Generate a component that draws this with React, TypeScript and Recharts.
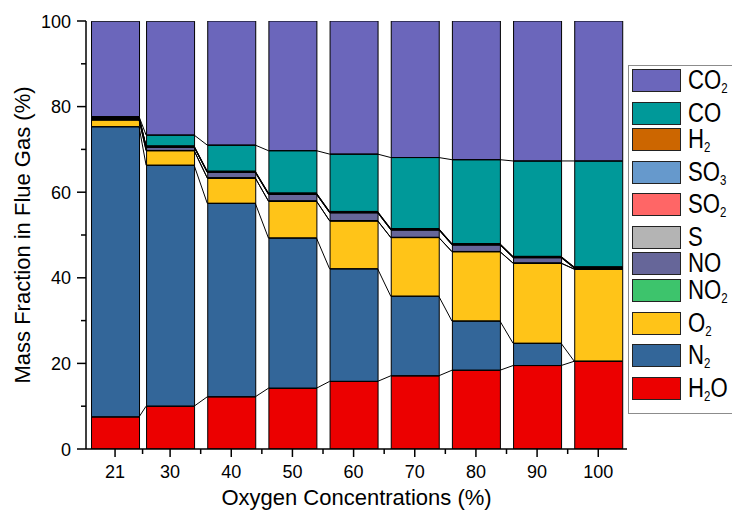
import React from 'react';
import { ComposedChart, Bar, Line, XAxis, YAxis, Legend } from 'recharts';

// ---- data ----
const oxygen = [21, 30, 40, 50, 60, 70, 80, 90, 100];
const minorXTicks = [25.5, 35, 45, 55, 65, 75, 85, 95];
const yTicks = [0, 10, 20, 30, 40, 50, 60, 70, 80, 90, 100];

const h2o = [7.5, 10.0, 12.2, 14.2, 15.8, 17.1, 18.4, 19.5, 20.5];
const n2 = [67.8, 56.3, 45.2, 35.1, 26.3, 18.6, 11.5, 5.2, 0];
const o2 = [1.6, 3.4, 5.9, 8.6, 11.2, 13.7, 16.2, 18.7, 21.5];
const no2 = [0.05, 0.05, 0.05, 0.05, 0.05, 0.05, 0.05, 0.05, 0.05];
const no = [0.3, 0.75, 1.25, 1.55, 1.85, 1.75, 1.55, 1.25, 0.2];
const sul = [0.05, 0.05, 0.05, 0.05, 0.05, 0.05, 0.05, 0.05, 0.05];
const so2 = [0.1, 0.1, 0.1, 0.1, 0.1, 0.1, 0.1, 0.1, 0.1];
const so3 = [0.05, 0.05, 0.05, 0.05, 0.05, 0.05, 0.05, 0.05, 0.05];
const h2 = [0.1, 0.1, 0.1, 0.1, 0.1, 0.1, 0.1, 0.1, 0.1];
const co = [0.1, 2.55, 6.1, 9.9, 13.4, 16.6, 19.6, 22.3, 24.75];
const co2 = [22.3, 26.6, 29.0, 30.3, 31.1, 31.9, 32.4, 32.7, 32.7];

// stacking order bottom -> top
const series = [
  { key: 'H2O', base: 'H', sub: '2', tail: 'O', values: h2o, color: '#EC0000' },
  { key: 'N2', base: 'N', sub: '2', tail: '', values: n2, color: '#336699' },
  { key: 'O2', base: 'O', sub: '2', tail: '', values: o2, color: '#FFC418' },
  { key: 'NO2', base: 'NO', sub: '2', tail: '', values: no2, color: '#3DC46C' },
  { key: 'NO', base: 'NO', sub: '', tail: '', values: no, color: '#666699' },
  { key: 'S', base: 'S', sub: '', tail: '', values: sul, color: '#B4B4B4' },
  { key: 'SO2', base: 'SO', sub: '2', tail: '', values: so2, color: '#FF6666' },
  { key: 'SO3', base: 'SO', sub: '3', tail: '', values: so3, color: '#6699CC' },
  { key: 'H2', base: 'H', sub: '2', tail: '', values: h2, color: '#CC6600' },
  { key: 'CO', base: 'CO', sub: '', tail: '', values: co, color: '#009999' },
  { key: 'CO2', base: 'CO', sub: '2', tail: '', values: co2, color: '#6B66BB' },
];

const chartData = oxygen.map((x, i) => {
  const row: Record<string, number> = { x };
  series.forEach((s) => {
    row[s.key] = s.values[i];
  });
  return row;
});

// ---- layout ----
const W = 732;
const H = 517;
const PLOT_LEFT = 86;
const PLOT_RIGHT = 627;
const PLOT_TOP = 21;
const PLOT_BOTTOM = 449;
const X_DOMAIN: [number, number] = [16.25, 104.7];
const BAR_PX = 48;
const halfBarUnits = ((BAR_PX / 2) * (X_DOMAIN[1] - X_DOMAIN[0])) / (PLOT_RIGHT - PLOT_LEFT);

// connector lines between bars: cumulative boundaries (all except the top one)
const connectorData = series.slice(0, series.length - 1).map((_, k) =>
  oxygen.flatMap((x, i) => {
    let cum = 0;
    for (let j = 0; j <= k; j++) cum += series[j].values[i];
    return [
      { x: x - halfBarUnits, y: cum },
      { x: x + halfBarUnits, y: cum },
    ];
  })
);

const FONT = 'Arial, "Liberation Sans", Helvetica, sans-serif';

const XTick = (props: any) => {
  const { x, y, payload } = props;
  const major = oxygen.includes(payload.value);
  return (
    <g>
      <line x1={x} x2={x} y1={y} y2={y + (major ? 8 : 5)} stroke="#000" strokeWidth={1.5} />
      {major && (
        <text x={x} y={y + 29} textAnchor="middle" fontSize={18} fontFamily={FONT} fill="#000">
          {payload.value}
        </text>
      )}
    </g>
  );
};

const YTick = (props: any) => {
  const { x, y, payload } = props;
  const major = payload.value % 20 === 0;
  return (
    <g>
      <line x1={x} x2={x - (major ? 9 : 5)} y1={y} y2={y} stroke="#000" strokeWidth={1.5} />
      {major && (
        <text x={x - 15} y={y + 6.5} textAnchor="end" fontSize={18} fontFamily={FONT} fill="#000">
          {payload.value}
        </text>
      )}
    </g>
  );
};

const YTitle = (props: any) => {
  const vb = props.viewBox || {};
  const cy = (vb.y ?? PLOT_TOP) + (vb.height ?? PLOT_BOTTOM - PLOT_TOP) / 2;
  const cx = 30;
  return (
    <text
      x={cx}
      y={cy}
      transform={`rotate(-90 ${cx} ${cy})`}
      textAnchor="middle"
      fontSize={22}
      fontFamily={FONT}
      fill="#000"
    >
      Mass Fraction in Flue Gas (%)
    </text>
  );
};

const XTitle = (props: any) => {
  const vb = props.viewBox || {};
  const cx = (vb.x ?? PLOT_LEFT) + (vb.width ?? PLOT_RIGHT - PLOT_LEFT) / 2;
  return (
    <text x={cx} y={505} textAnchor="middle" fontSize={22} fontFamily={FONT} fill="#000">
      Oxygen Concentrations (%)
    </text>
  );
};

const renderLegend = () => {
  const items = [...series].reverse();
  return (
    <div
      style={{
        boxSizing: 'border-box',
        width: 110,
        border: '1px solid #8c8c8c',
        padding: '3px 0 4px 3px',
        background: '#fff',
        fontFamily: FONT,
      }}
    >
      {items.map((s) => (
        <div
          key={s.key}
          style={{ display: 'flex', alignItems: 'flex-start', height: s.sub ? 32.5 : 26.7 }}
        >
          <div
            style={{
              boxSizing: 'border-box',
              width: 49,
              height: 23,
              background: s.color,
              border: '1px solid #222',
              flex: 'none',
            }}
          />
          <div
            style={{
              marginLeft: 7,
              fontSize: 27,
              lineHeight: '23px',
              whiteSpace: 'nowrap',
              transform: 'scaleX(0.82)',
              transformOrigin: 'left center',
              color: '#000',
            }}
          >
            {s.base}
            {s.sub && (
              <span style={{ fontSize: 14, position: 'relative', top: 4 }}>{s.sub}</span>
            )}
            {s.tail}
          </div>
        </div>
      ))}
    </div>
  );
};

export default function App() {
  return (
    <div
      style={{
        position: 'absolute',
        left: 0,
        top: 0,
        width: W,
        height: H,
        overflow: 'hidden',
        background: '#fff',
      }}
    >
      <ComposedChart
        width={W}
        height={H}
        data={chartData}
        margin={{ top: PLOT_TOP, right: W - PLOT_RIGHT, bottom: 0, left: 0 }}
      >
        <XAxis
          type="number"
          dataKey="x"
          domain={X_DOMAIN}
          ticks={[...oxygen, ...minorXTicks].sort((a, b) => a - b)}
          interval={0}
          tickSize={0}
          tickMargin={0}
          tick={<XTick />}
          tickLine={false}
          axisLine={{ stroke: '#000', strokeWidth: 1.5 }}
          height={H - PLOT_BOTTOM}
          allowDataOverflow
          label={{ content: <XTitle /> }}
        />
        <XAxis
          xAxisId="b"
          type="number"
          dataKey="x"
          domain={X_DOMAIN}
          ticks={oxygen}
          hide
          allowDataOverflow
        />
        <YAxis
          type="number"
          domain={[0, 100]}
          ticks={yTicks}
          interval={0}
          width={PLOT_LEFT}
          tickSize={0}
          tickMargin={0}
          tick={<YTick />}
          tickLine={false}
          axisLine={{ stroke: '#000', strokeWidth: 1.5 }}
          allowDataOverflow
          label={{ content: <YTitle /> }}
        />
        {series.map((s) => (
          <Bar
            key={s.key}
            dataKey={s.key}
            xAxisId="b"
            stackId="gas"
            barSize={BAR_PX}
            fill={s.color}
            stroke="#000"
            strokeWidth={1}
            isAnimationActive={false}
            legendType="none"
          />
        ))}
        {connectorData.map((d, k) => (
          <Line
            key={'c' + k}
            data={d}
            dataKey="y"
            type="linear"
            stroke="#000"
            strokeWidth={1}
            dot={false}
            activeDot={false}
            isAnimationActive={false}
            legendType="none"
          />
        ))}
        <Legend
          layout="vertical"
          align="center"
          verticalAlign="middle"
          wrapperStyle={{ left: 628, top: 65, width: 110 }}
          content={renderLegend}
        />
      </ComposedChart>
    </div>
  );
}
